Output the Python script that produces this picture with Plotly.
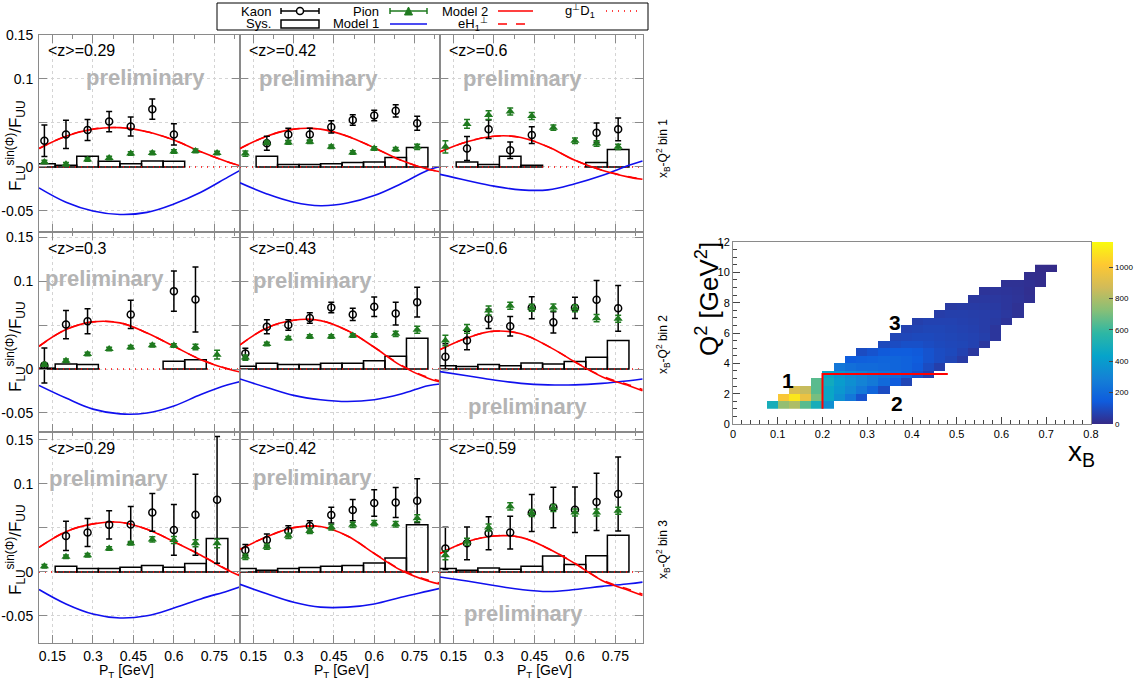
import plotly.graph_objects as go

W, H = 1137, 679

# ---------------- data: asymmetry panels (row-major: bin1 z1,z2,z3, bin2 ..., bin3 ...)
PT = [0.12, 0.2, 0.28, 0.36, 0.44, 0.52, 0.6, 0.68, 0.76]
CURVE_PT = [0.1, 0.2, 0.3, 0.4, 0.5, 0.6, 0.7, 0.8, 0.85]
Z_MEAN = ["0.29", "0.42", "0.6", "0.3", "0.43", "0.6", "0.29", "0.42", "0.59"]
ROW_LABELS = ["bin 1", "bin 2", "bin 3"]

KAON = [
    [0.0298, 0.037, 0.042, 0.0516, 0.046, 0.0657, 0.037, None, None],
    [None, 0.027, 0.037, 0.037, 0.0455, 0.0535, 0.0584, 0.0638, 0.0497],
    [None, 0.021, 0.0428, 0.019, 0.0363, None, None, 0.039, 0.0428],
    [0.004, 0.0505, 0.0543, None, 0.062, None, 0.0885, 0.079, None],
    [0.0175, 0.048, 0.050, 0.058, 0.070, 0.062, 0.0707, 0.063, 0.076],
    [0.014, 0.0323, 0.057, 0.0486, 0.0695, 0.053, 0.0695, 0.0787, 0.069],
    [None, 0.0409, 0.0447, 0.0535, 0.054, 0.0676, 0.0478, 0.065, 0.082],
    [0.0248, 0.0363, 0.0466, 0.0523, 0.0646, 0.0703, 0.0783, 0.079, 0.081],
    [0.0267, 0.0325, 0.044, 0.0447, 0.067, 0.0733, 0.0707, 0.0795, 0.0886],
]
KAON_ERR = [
    [0.018, 0.016, 0.012, 0.0115, 0.0107, 0.0115, 0.012, None, None],
    [None, 0.008, 0.007, 0.007, 0.007, 0.006, 0.006, 0.007, 0.008],
    [None, 0.0135, 0.0105, 0.0095, 0.0095, None, None, 0.011, 0.013],
    [0.02, 0.016, 0.0143, None, 0.016, None, 0.023, 0.037, None],
    [0.006, 0.008, 0.006, 0.006, 0.006, 0.007, 0.011, 0.013, 0.017],
    [0.0147, 0.0105, 0.011, 0.011, 0.0125, 0.012, 0.012, 0.022, 0.026],
    [None, 0.0166, 0.0159, 0.016, 0.0204, 0.0214, 0.0287, 0.046, 0.072],
    [0.0065, 0.0067, 0.006, 0.006, 0.009, 0.012, 0.015, 0.017, 0.025],
    [0.024, 0.0187, 0.0187, 0.0185, 0.021, 0.023, 0.0258, 0.0325, 0.042],
]
PION = [
    [0.0057, 0.003, 0.0084, 0.0103, 0.0153, 0.016, 0.0176, 0.0183, 0.016],
    [0.0153, 0.0275, 0.0279, 0.0287, 0.0229, 0.0164, 0.021, 0.0202, 0.0229],
    [0.0229, 0.0489, 0.059, 0.063, 0.058, 0.0447, 0.0298, 0.0267, 0.0229],
    [0.005, 0.0095, 0.0171, 0.0228, 0.0247, 0.027, 0.0266, 0.025, 0.0163],
    [0.013, 0.0285, 0.035, 0.037, 0.037, 0.038, 0.038, 0.040, 0.0445],
    [0.0323, 0.0456, 0.0665, 0.072, 0.0695, 0.070, 0.069, 0.0578, 0.057],
    [0.0065, 0.0172, 0.019, 0.0267, 0.0325, 0.037, 0.0363, 0.0325, 0.0325],
    [0.0172, 0.0287, 0.041, 0.0466, 0.0508, 0.0535, 0.0554, 0.0542, 0.061],
    [0.019, 0.0344, 0.0504, 0.0745, 0.067, 0.0726, 0.0676, 0.0676, 0.0695],
]
PION_ERR = [
    [0.002, 0.002, 0.002, 0.002, 0.002, 0.002, 0.002, 0.002, 0.002],
    [0.003, 0.002, 0.002, 0.002, 0.002, 0.002, 0.002, 0.002, 0.003],
    [0.007, 0.005, 0.005, 0.004, 0.004, 0.003, 0.003, 0.003, 0.003],
    [0.002, 0.002, 0.002, 0.002, 0.002, 0.002, 0.002, 0.003, 0.005],
    [0.003, 0.002, 0.002, 0.002, 0.002, 0.002, 0.002, 0.003, 0.004],
    [0.006, 0.005, 0.005, 0.004, 0.004, 0.004, 0.004, 0.004, 0.004],
    [0.002, 0.002, 0.002, 0.002, 0.002, 0.003, 0.004, 0.004, 0.005],
    [0.003, 0.003, 0.003, 0.003, 0.003, 0.003, 0.003, 0.003, 0.004],
    [0.005, 0.004, 0.004, 0.004, 0.004, 0.004, 0.004, 0.004, 0.004],
]
SYS = [
    [0.0038, 0.002, 0.0122, 0.0065, 0.0038, 0.0069, 0.0065, None, None],
    [None, 0.0122, 0.0027, 0.0027, 0.0038, 0.005, 0.0057, 0.0107, 0.0222],
    [None, 0.0057, 0.0027, 0.0122, 0.002, None, None, 0.005, 0.020],
    [0.001, 0.0057, 0.005, None, None, None, 0.0087, 0.0106, None],
    [0.003, 0.0065, 0.005, 0.005, 0.0065, 0.0065, 0.0095, 0.0144, 0.035],
    [0.0038, 0.0027, 0.005, 0.0038, 0.0068, 0.0057, 0.0084, 0.0133, 0.0323],
    [None, 0.0065, 0.0038, 0.0038, 0.0053, 0.0073, 0.0053, 0.0096, 0.038],
    [0.0038, 0.0019, 0.0038, 0.005, 0.0065, 0.0073, 0.0103, 0.016, 0.0535],
    [0.0038, 0.0019, 0.0046, 0.003, 0.0065, 0.018, 0.0084, 0.0183, 0.0416],
]
MODEL1 = [
    [-0.0237, -0.040, -0.050, -0.054, -0.0516, -0.042, -0.0287, -0.0115, -0.003],
    [-0.018, -0.0306, -0.040, -0.044, -0.041, -0.0325, -0.019, -0.0038, 0.001],
    [-0.0084, -0.0153, -0.0218, -0.026, -0.026, -0.019, -0.0096, 0.0019, 0.0069],
    [-0.0186, -0.033, -0.0456, -0.051, -0.050, -0.042, -0.029, -0.018, -0.014],
    [-0.0114, -0.021, -0.030, -0.035, -0.037, -0.035, -0.0285, -0.019, -0.017],
    [-0.003, -0.0076, -0.0125, -0.0163, -0.018, -0.018, -0.0163, -0.0133, -0.0114],
    [-0.0199, -0.0363, -0.0478, -0.0523, -0.0497, -0.041, -0.0306, -0.0215, -0.0164],
    [-0.0141, -0.0248, -0.0344, -0.040, -0.040, -0.0363, -0.0287, -0.0218, -0.0183],
    [-0.0057, -0.0103, -0.0153, -0.0199, -0.0222, -0.020, -0.0164, -0.0134, -0.0115],
]
MODEL2 = [
    [0.021, 0.035, 0.043, 0.0447, 0.040, 0.0306, 0.0172, 0.0057, 0.001],
    [0.021, 0.035, 0.043, 0.043, 0.035, 0.0218, 0.0076, -0.0027, -0.0057],
    [0.0172, 0.0287, 0.035, 0.0336, 0.0229, 0.0076, -0.0038, -0.0115, -0.014],
    [0.0258, 0.0448, 0.0536, 0.0524, 0.041, 0.0258, 0.0106, 0.0, -0.0038],
    [0.0274, 0.0467, 0.0555, 0.055, 0.0437, 0.0247, 0.0038, -0.0106, -0.0152],
    [0.022, 0.0353, 0.043, 0.040, 0.026, 0.008, -0.0087, -0.019, -0.0247],
    [0.0279, 0.0458, 0.0546, 0.0565, 0.0485, 0.0344, 0.019, 0.0019, -0.005],
    [0.0256, 0.040, 0.0504, 0.0516, 0.0409, 0.021, 0.0019, -0.0103, -0.0141],
    [0.021, 0.0344, 0.0409, 0.0393, 0.0267, 0.0096, -0.0096, -0.021, -0.0267],
]
EH1 = [
    [0.021, 0.035, 0.043, 0.0447, 0.040, 0.0306, 0.0172, 0.0057, 0.001],
    [0.021, 0.035, 0.043, 0.043, 0.035, 0.0218, 0.0076, -0.0025, -0.0052],
    [0.0172, 0.0287, 0.035, 0.0336, 0.0229, 0.0076, -0.0036, -0.011, -0.0133],
    [0.0258, 0.0448, 0.0536, 0.0524, 0.041, 0.0258, 0.0108, 0.0004, -0.0032],
    [0.0274, 0.0467, 0.0555, 0.055, 0.0437, 0.0249, 0.0045, -0.0095, -0.0138],
    [0.022, 0.0353, 0.043, 0.040, 0.026, 0.0082, -0.008, -0.018, -0.0233],
    [0.0279, 0.0458, 0.0546, 0.0565, 0.0485, 0.0344, 0.0192, 0.0025, -0.0042],
    [0.0256, 0.040, 0.0504, 0.0516, 0.0409, 0.0212, 0.0026, -0.0092, -0.0128],
    [0.021, 0.0344, 0.0409, 0.0393, 0.0267, 0.0098, -0.009, -0.0198, -0.0252],
]
G_PERP_D1 = [0, 0, 0, 0, 0, 0, 0, 0, 0]

PRELIM_X = [0.496, 0.393, 0.404, 0.341, 0.37, 0.424, 0.359, 0.37, 0.41]
PRELIM_Y = [0.102, 0.100, 0.101, 0.103, 0.101, -0.043, 0.1057, 0.107, -0.047]

# ---------------- data: x_B - Q^2 distribution (counts per cell)
HM_X_EDGE0, HM_DX, HM_NX = 0.05, 0.025, 28
HM_Q2 = [1.25, 1.75, 2.25, 2.75, 3.25, 3.75, 4.25, 4.75, 5.25, 5.75,
         6.25, 6.75, 7.25, 7.75, 8.25, 8.75, 9.25, 9.75, 10.25]
HM_START = [1, 2, 3, 5, 6, 7, 8, 9, 11, 12, 13, 14, 16, 17, 19, 20, 22, 24, 25]
HM_COUNTS = [
    [500, 750, 800, 650, 500, 350],
    [1000, 1100, 950, 700, 450, 350, 250, 120],
    [900, 850, 650, 450, 380, 320, 250, 180, 100],
    [650, 480, 400, 350, 300, 260, 200, 150, 80],
    [450, 380, 330, 300, 260, 230, 200, 160, 110, 60],
    [250, 220, 200, 200, 190, 180, 170, 140, 100, 60],
    [150, 160, 170, 180, 180, 170, 150, 120, 100, 80, 50],
    [100, 120, 140, 150, 150, 140, 120, 100, 90, 70, 40],
    [90, 100, 110, 110, 100, 90, 85, 80, 70, 40],
    [80, 85, 90, 90, 85, 80, 75, 70, 60, 35],
    [70, 75, 80, 80, 75, 70, 65, 55, 35],
    [60, 70, 70, 70, 65, 60, 55, 45, 30],
    [55, 60, 60, 58, 55, 50, 40, 25],
    [45, 50, 50, 48, 45, 35, 22],
    [40, 42, 40, 35, 28, 18],
    [30, 32, 30, 25, 15],
    [22, 22, 18, 10],
    [12, 8],
    [5, 3],
]
BIN_LINE_X = [0.2, 0.2, 0.48]
BIN_LINE_Q2 = [1.0, 3.3, 3.3]
BIN_NAMES = ["1", "2", "3"]
BIN_NAME_X = [0.123, 0.366, 0.362]
BIN_NAME_Q2 = [2.9, 1.35, 6.7]

# ---------------- layout helpers
FONT = "Liberation Sans, Arial, sans-serif"
RED, BLUE, GREEN = "#ff0000", "#1010ee", "#1f7a1f"
COL_PX = [(39, 240), (240, 440), (440, 643)]
ROW_PX = [(35, 232), (232, 432), (432, 643)]
YRANGE = [(-0.0739, 0.150), (-0.0716, 0.1557), (-0.0807, 0.159)]
XRANGE = [(0.1, 0.845), (0.1, 0.845), (0.1, 0.852)]


def fx(p):
    return p / W


def fy(p):
    return 1 - p / H


fig = go.Figure()
layout = dict(width=W, height=H, margin=dict(l=0, r=0, t=0, b=0, autoexpand=False),
              paper_bgcolor="white", plot_bgcolor="white",
              font=dict(family=FONT, color="black"), showlegend=False,
              barmode="overlay")
annotations = []
shapes = []


def note(x, y, text, size, xanchor="center", yanchor="middle", angle=0, **kw):
    d = dict(xref="paper", yref="paper", x=fx(x), y=fy(y), xanchor=xanchor,
             yanchor=yanchor, textangle=angle, showarrow=False, text=text,
             font=dict(size=size, **kw))
    annotations.append(d)


for p in range(9):
    r, c = divmod(p, 3)
    n = "" if p == 0 else str(p + 1)
    xa, ya = "x" + n, "y" + n
    sx = [PT[i] for i in range(9) if SYS[p][i] is not None]
    sy = [SYS[p][i] for i in range(9) if SYS[p][i] is not None]
    fig.add_trace(go.Bar(x=sx, y=sy, width=0.08, xaxis=xa, yaxis=ya,
                         marker=dict(color="rgba(0,0,0,0)",
                                     line=dict(color="black", width=1.5))))
    fig.add_trace(go.Scatter(x=CURVE_PT, y=G_PERP_D1, mode="lines", xaxis=xa, yaxis=ya,
                             line=dict(color=RED, width=1.5, dash="1px,5px")))
    fig.add_trace(go.Scatter(x=CURVE_PT, y=MODEL1[p], mode="lines", xaxis=xa, yaxis=ya,
                             line=dict(color=BLUE, width=1.6, shape="spline", smoothing=1.1)))
    fig.add_trace(go.Scatter(x=CURVE_PT, y=EH1[p], mode="lines", xaxis=xa, yaxis=ya,
                             line=dict(color=RED, width=1.5, dash="dash", shape="spline",
                                       smoothing=1.1)))
    fig.add_trace(go.Scatter(x=CURVE_PT, y=MODEL2[p], mode="lines", xaxis=xa, yaxis=ya,
                             line=dict(color=RED, width=1.6, shape="spline", smoothing=1.1)))
    kx = [PT[i] for i in range(9) if KAON[p][i] is not None]
    ky = [KAON[p][i] for i in range(9) if KAON[p][i] is not None]
    ke = [KAON_ERR[p][i] for i in range(9) if KAON[p][i] is not None]
    fig.add_trace(go.Scatter(x=kx, y=ky, mode="markers", xaxis=xa, yaxis=ya,
                             marker=dict(symbol="circle-open", size=7, color="black",
                                         line=dict(width=1.5, color="black")),
                             error_y=dict(type="data", array=ke, color="black",
                                          thickness=1.5, width=3)))
    fig.add_trace(go.Scatter(x=PT, y=PION[p], mode="markers", xaxis=xa, yaxis=ya,
                             marker=dict(symbol="triangle-up", size=8, color=GREEN),
                             error_y=dict(type="data", array=PION_ERR[p], color=GREEN,
                                          thickness=1.5, width=3)))

    x0, x1 = COL_PX[c]
    y0, y1 = ROW_PX[r]
    layout["xaxis" + n] = dict(
        domain=[fx(x0), fx(x1)], range=list(XRANGE[c]), anchor=ya,
        showline=True, mirror="ticks", linecolor="#8a8a8a", linewidth=1,
        ticks="inside", ticklen=8, tickcolor="#8a8a8a",
        tickvals=[0.15, 0.3, 0.45, 0.6, 0.75], ticktext=["0.15", "0.3", "0.45", "0.6", "0.75"],
        minor=dict(ticks="inside", ticklen=4, dtick=0.075, tick0=0.075, tickcolor="#8a8a8a"),
        showgrid=True, gridcolor="#d4d4d4", griddash="dot", zeroline=False,
        showticklabels=(r == 2), tickfont=dict(size=14))
    layout["yaxis" + n] = dict(
        domain=[fy(y1), fy(y0)], range=list(YRANGE[r]), anchor=xa,
        showline=True, mirror="ticks", linecolor="#8a8a8a", linewidth=1,
        ticks="inside", ticklen=8, tickcolor="#8a8a8a",
        tickvals=[-0.05, 0, 0.1, 0.15], ticktext=["-0.05", "0", "0.1", "0.15"],
        minor=dict(ticks="inside", ticklen=8, dtick=0.05, tick0=0, tickcolor="#8a8a8a",
                   showgrid=True, gridcolor="#d4d4d4", griddash="dot"),
        showgrid=True, gridcolor="#d4d4d4", griddash="dot", zeroline=False,
        showticklabels=(c == 0), tickfont=dict(size=14), ticklabelstandoff=2)

    note(x0 + 7, y0 + 16, "<z>=" + Z_MEAN[p], 16, xanchor="left")
    annotations.append(dict(xref=xa, yref=ya, x=PRELIM_X[p], y=PRELIM_Y[p],
                            xanchor="center", yanchor="middle", showarrow=False,
                            text="<b>preliminary</b>", font=dict(size=22, color="#b4b4b4")))

for r, (yc, lab) in enumerate(zip([146, 347, 550], [149, 345, 550])):
    note(15, yc, "F<sub>LU</sub><sup>sin(Φ)</sup>/F<sub>UU</sub>", 17, angle=-90)
    note(663, lab, "x<sub>B</sub>-Q<sup>2</sup> " + ROW_LABELS[r], 12, angle=-90)
for xc in [126, 341, 544]:
    note(xc, 671, "P<sub>T</sub> [GeV]", 14)

# ---------------- heatmap
hm_x = [HM_X_EDGE0 + HM_DX * (i + 0.5) for i in range(HM_NX)]
hm_z = []
for start, vals in zip(HM_START, HM_COUNTS):
    row = [None] * HM_NX
    for k, v in enumerate(vals):
        row[start + k] = v
    hm_z.append(row)

KBIRD = [[0.0, "rgb(53,42,135)"], [0.125, "rgb(15,92,221)"], [0.25, "rgb(20,129,214)"],
         [0.375, "rgb(6,164,202)"], [0.5, "rgb(46,183,164)"], [0.625, "rgb(135,191,119)"],
         [0.75, "rgb(209,187,89)"], [0.875, "rgb(254,200,50)"], [1.0, "rgb(249,251,14)"]]

fig.add_trace(go.Heatmap(x=hm_x, y=HM_Q2, z=hm_z, xaxis="x10", yaxis="y10",
                         colorscale=KBIRD, zmin=0, zmax=1160, hoverongaps=False,
                         colorbar=dict(x=fx(1092), xanchor="left", thickness=21,
                                       thicknessmode="pixels", len=182, lenmode="pixels",
                                       y=fy(333), yanchor="middle", outlinewidth=0,
                                       tickvals=[0, 200, 400, 600, 800, 1000],
                                       ticks="inside", ticklen=4,
                                       tickfont=dict(size=8), xpad=0, ypad=0)))
fig.add_trace(go.Scatter(x=BIN_LINE_X, y=BIN_LINE_Q2, mode="lines", xaxis="x10", yaxis="y10",
                         line=dict(color=RED, width=2)))
for t, bx, by in zip(BIN_NAMES, BIN_NAME_X, BIN_NAME_Q2):
    annotations.append(dict(xref="x10", yref="y10", x=bx, y=by, showarrow=False,
                            xanchor="center", yanchor="middle",
                            text="<b>" + t + "</b>", font=dict(size=21)))

layout["xaxis10"] = dict(domain=[fx(733), fx(1091)], range=[0, 0.8], anchor="y10",
                         showline=True, mirror=True, linecolor="#8a8a8a",
                         ticks="inside", ticklen=7, dtick=0.1, tick0=0,
                         minor=dict(ticks="inside", ticklen=4, dtick=0.02),
                         showgrid=False, zeroline=False, tickfont=dict(size=11))
layout["yaxis10"] = dict(domain=[fy(424), fy(242)], range=[0, 12], anchor="x10",
                         showline=True, mirror=True, linecolor="#8a8a8a",
                         ticks="inside", ticklen=7, dtick=2, tick0=0,
                         minor=dict(ticks="inside", ticklen=4, dtick=0.5),
                         showgrid=False, zeroline=False, tickfont=dict(size=11))
note(707, 240, "Q<sup>2</sup> [GeV<sup>2</sup>]", 26, yanchor="top", angle=-90)
note(1081, 454, "x<sub>B</sub>", 28)

# ---------------- legend (drawn manually, ROOT style)
shapes.append(dict(type="rect", xref="paper", yref="paper", x0=fx(217), x1=fx(648),
                   y0=fy(30), y1=fy(3), line=dict(color="black", width=1),
                   fillcolor="white"))


def hline(xa_, xb_, y, color, width=1.5, dash="solid"):
    shapes.append(dict(type="line", xref="paper", yref="paper", x0=fx(xa_), x1=fx(xb_),
                       y0=fy(y), y1=fy(y), line=dict(color=color, width=width, dash=dash)))


def vline(x, ya_, yb_, color):
    shapes.append(dict(type="line", xref="paper", yref="paper", x0=fx(x), x1=fx(x),
                       y0=fy(ya_), y1=fy(yb_), line=dict(color=color, width=1.5)))


hline(281, 319, 11, "black")
vline(281, 8, 14, "black")
vline(319, 8, 14, "black")
shapes.append(dict(type="circle", xref="paper", yref="paper", x0=fx(296.5), x1=fx(303.5),
                   y0=fy(14.5), y1=fy(7.5), line=dict(color="black", width=1.5),
                   fillcolor="white"))
hline(390, 427, 11, GREEN)
vline(390, 8, 14, GREEN)
vline(427, 8, 14, GREEN)
shapes.append(dict(type="path", xref="paper", yref="paper",
                   path="M {} {} L {} {} L {} {} Z".format(fx(404.5), fy(15), fx(412.5), fy(15),
                                                          fx(408.5), fy(7)),
                   fillcolor=GREEN, line=dict(color=GREEN, width=1)))
hline(498, 533, 11, RED, 1.6)
hline(606, 640, 11, RED, 1.5, "1px,5px")
shapes.append(dict(type="rect", xref="paper", yref="paper", x0=fx(281), x1=fx(319),
                   y0=fy(28), y1=fy(20), line=dict(color="black", width=1.5)))
hline(390, 427, 24, BLUE, 1.6)
hline(498, 533, 24, RED, 1.5, "dash")

leg_text = [("Kaon", 273, 11), ("Pion", 381, 11), ("Model 2", 490, 11),
            ("g<sup>⊥</sup>D<sub>1</sub>", 597, 11),
            ("Sys.", 273, 24), ("Model 1", 381, 24), ("eH<sub>1</sub><sup>⊥</sup>", 490, 24)]
for t, xr, yc in leg_text:
    note(xr, yc, t, 13, xanchor="right")

layout["annotations"] = annotations
layout["shapes"] = shapes
fig.update_layout(**layout)
fig.write_html("out.html", config={"displayModeBar": False},
               post_script="document.body.style.margin='0px';"
                           "document.body.style.overflow='hidden';")
